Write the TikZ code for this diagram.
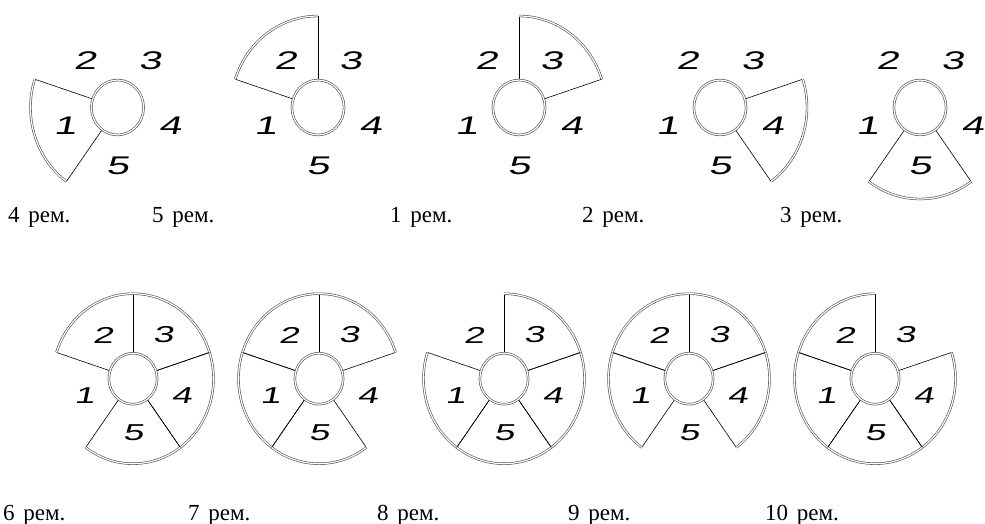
\documentclass[tikz,border=0pt]{standalone}
\usepackage{fontspec}
\setmainfont[WordSpace=1.5]{Liberation Serif}
\newfontfamily\digf[FakeStretch=1.6,FakeSlant=0.2]{Liberation Sans}
\tikzset{
  rim/.style={draw=black!70, double=white, line width=0.6pt, double distance=1.2pt},
  hub/.style={draw=black!70, double=white, line width=0.6pt, double distance=1.2pt},
  spoke/.style={draw=black, line width=0.6pt},
  numtop/.style={font=\digf\fontsize{25.5}{25.5}\selectfont, inner sep=0pt},
  numbot/.style={font=\digf\fontsize{23}{23}\selectfont, inner sep=0pt},
  captxt/.style={font=\fontsize{23}{25}\selectfont, anchor=base west, inner sep=0pt},
}
% #1 name, #2 cx, #3 cy, #4 rx, #5 ry, #6 sectors, #7 label style
\newcommand\wheel[7]{%
\begin{scope}[shift={(#2,-#3)}, xscale=#4, yscale=#5]
  \foreach \k in {#6} {
    \pgfmathsetmacro\a{198-72*(\k-1)}
    \draw[spoke] (\a+36:0.3) -- (\a+36:1);
    \draw[spoke] (\a-36:0.3) -- (\a-36:1);
    \draw[rim] (\a+36:1) arc[start angle=\a+36, end angle=\a-36, radius=1];
  }
  \draw[hub] (0,0) circle[radius=0.3];
  \foreach \k in {1,...,5} {
    \pgfmathsetmacro\a{198-72*(\k-1)}
    \node[#7] (#1-\k) at (\a:0.635) {\k};
  }
\end{scope}}
\begin{document}
\begin{tikzpicture}[x=1pt,y=1pt]
\useasboundingbox (0,0) rectangle (985,-524);
\wheel{wa}{117.5}{107.5}{87}{91.5}{1}{numtop}
\wheel{wb}{318}{107.5}{87}{91.5}{2}{numtop}
\wheel{wc}{519}{107.5}{87}{91.5}{3}{numtop}
\wheel{wd}{720}{107.5}{87}{91.5}{4}{numtop}
\wheel{we}{920}{107.5}{87}{91.5}{5}{numtop}
\wheel{wf}{133}{378.7}{80.5}{85}{2,3,4,5}{numbot}
\wheel{wg}{319}{378.7}{80.5}{85}{1,2,3,5}{numbot}
\wheel{wh}{504}{378.7}{80.5}{85}{1,3,4,5}{numbot}
\wheel{wi}{689}{378.7}{80.5}{85}{1,2,3,4}{numbot}
\wheel{wj}{875}{378.7}{80.5}{85}{1,2,4,5}{numbot}
\node[captxt] (ca) at (8,-222) {4 рем.};
\node[captxt] (cb) at (152,-222) {5 рем.};
\node[captxt] (cc) at (390,-222) {1 рем.};
\node[captxt] (cd) at (582,-222) {2 рем.};
\node[captxt] (ce) at (780,-222) {3 рем.};
\node[captxt] (cf) at (3,-520) {6 рем.};
\node[captxt] (cg) at (188,-520) {7 рем.};
\node[captxt] (ch) at (377,-520) {8 рем.};
\node[captxt] (ci) at (568,-520) {9 рем.};
\node[captxt] (cj) at (765,-520) {10 рем.};
\end{tikzpicture}
\end{document}
